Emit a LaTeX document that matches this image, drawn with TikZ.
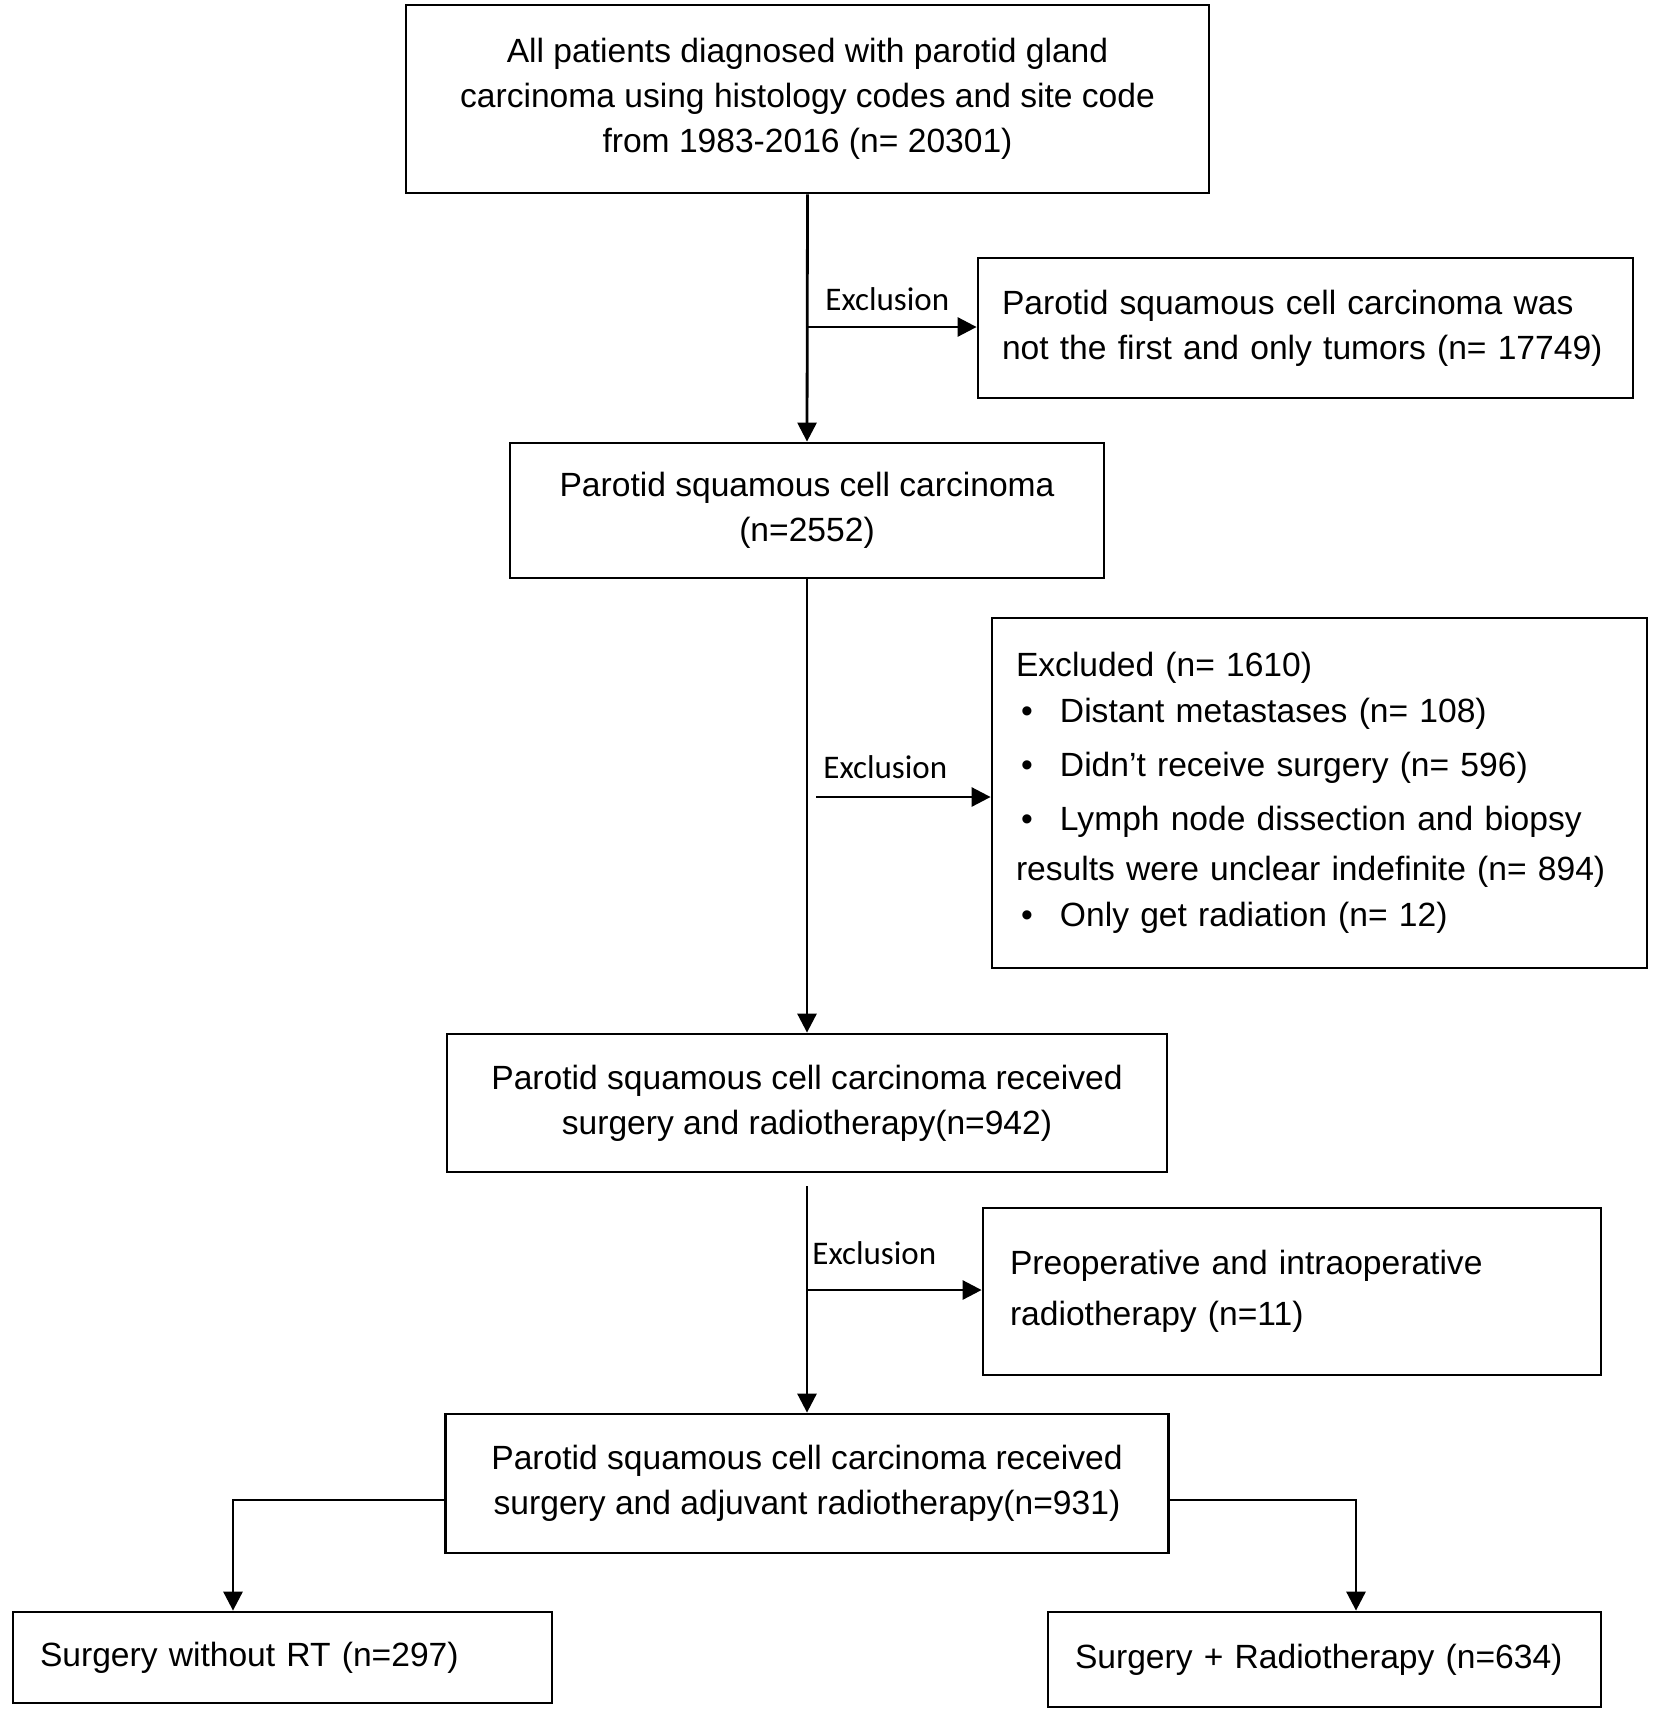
\documentclass[tikz,border=0pt]{standalone}
\usepackage{fontspec}
\setmainfont{Liberation Sans}
\newfontfamily\exclfont{Carlito}
\usetikzlibrary{arrows.meta}
\newcommand\bul{\makebox[22pt][l]{\hspace{2.5pt}\textbullet}}
\begin{document}
\begin{tikzpicture}[x=0.5pt,y=-0.5pt,
  box/.style={draw, line width=1.4pt, inner ysep=0pt, font=\fontsize{16.8}{22.5}\selectfont},
  cbox/.style={box, align=center, inner xsep=0pt},
  lbox/.style={box, align=left},
  arr/.style={line width=1.4pt, -{Triangle[length=9.5pt,width=9.5pt]}},
  lbl/.style={font=\exclfont\fontsize{16.5}{20}\selectfont, anchor=base west, inner sep=0pt}]
\useasboundingbox (0,0) rectangle (1654,1718);
\fill[white] (0,0) rectangle (1654,1718);

\node[cbox, minimum width=401.5pt, minimum height=94pt] (b1) at (807.5,99)
  {All patients diagnosed with parotid gland\\carcinoma using histology codes and site code\\from 1983-2016 (n= 20301)};
\node[lbox, inner xsep=12pt, text width=303.5pt, minimum height=70pt] (b2) at (1305.5,328)
  {Parotid squamous cell carcinoma was\\not the first and only tumors (n=~17749)};
\node[cbox, minimum width=297pt, minimum height=67.5pt] (b3) at (807,510.5)
  {Parotid squamous cell carcinoma\\(n=2552)};
\node[lbox, inner xsep=12pt, text width=303.5pt, minimum height=175pt, font=\fontsize{16.8}{23}\selectfont] (b4) at (1319.5,793)
  {Excluded (n= 1610)\\
   \bul Distant metastases (n= 108)\\[4pt]
   \bul Didn’t receive surgery (n= 596)\\[4pt]
   \bul Lymph node dissection and biopsy\\[2.25pt]
   results were unclear indefinite (n= 894)\\
   \bul Only get radiation (n= 12)};
\node[cbox, minimum width=360pt, minimum height=69pt] (b5) at (807,1103)
  {Parotid squamous cell carcinoma received\\surgery and radiotherapy(n=942)};
\node[lbox, inner xsep=13.5pt, text width=282pt, minimum height=83.5pt, font=\fontsize{16.8}{25.75}\selectfont] (b9) at (1292,1291.5)
  {Preoperative and intraoperative\\radiotherapy (n=11)};
\node[cbox, minimum width=361.5pt, minimum height=69.5pt] (b6) at (807,1483.5)
  {Parotid squamous cell carcinoma received\\surgery and adjuvant radiotherapy(n=931)};
\node[lbox, inner xsep=13.5pt, text width=242.5pt, minimum height=45.5pt] (b7) at (282.5,1657.5)
  {Surgery without RT (n=297)};
\node[lbox, inner xsep=13.5pt, text width=249.5pt, minimum height=47.5pt] (b8) at (1324.5,1659.5)
  {Surgery + Radiotherapy (n=634)};

% connectors
\coordinate (e1) at (807,327);
\coordinate (e2) at (816,797);
\coordinate (e3) at (807,1290);
\coordinate (l1) at (233,1500);
\coordinate (r1) at (1356,1500);

\draw[arr] (b1.south) -- (b3.north);
\draw[arr] (e1) -- (e1 -| b2.west);
\draw[arr] (b3.south) -- (b5.north);
\draw[arr] (e2) -- (e2 -| b4.west);
\draw[arr, shorten <=6.5pt] (b5.south) -- (b6.north);
\draw[arr] (e3) -- (e3 -| b9.west);
\draw[arr] (b6.west |- l1) -- (l1) -- (l1 |- b7.north);
\draw[arr] (b6.east |- r1) -- (r1) -- (r1 |- b8.north);

% labels
\node[lbl] (x1) at (825,310) {Exclusion};
\node[lbl] (x2) at (823,778) {Exclusion};
\node[lbl] (x3) at (812,1264) {Exclusion};
\end{tikzpicture}
\end{document}
